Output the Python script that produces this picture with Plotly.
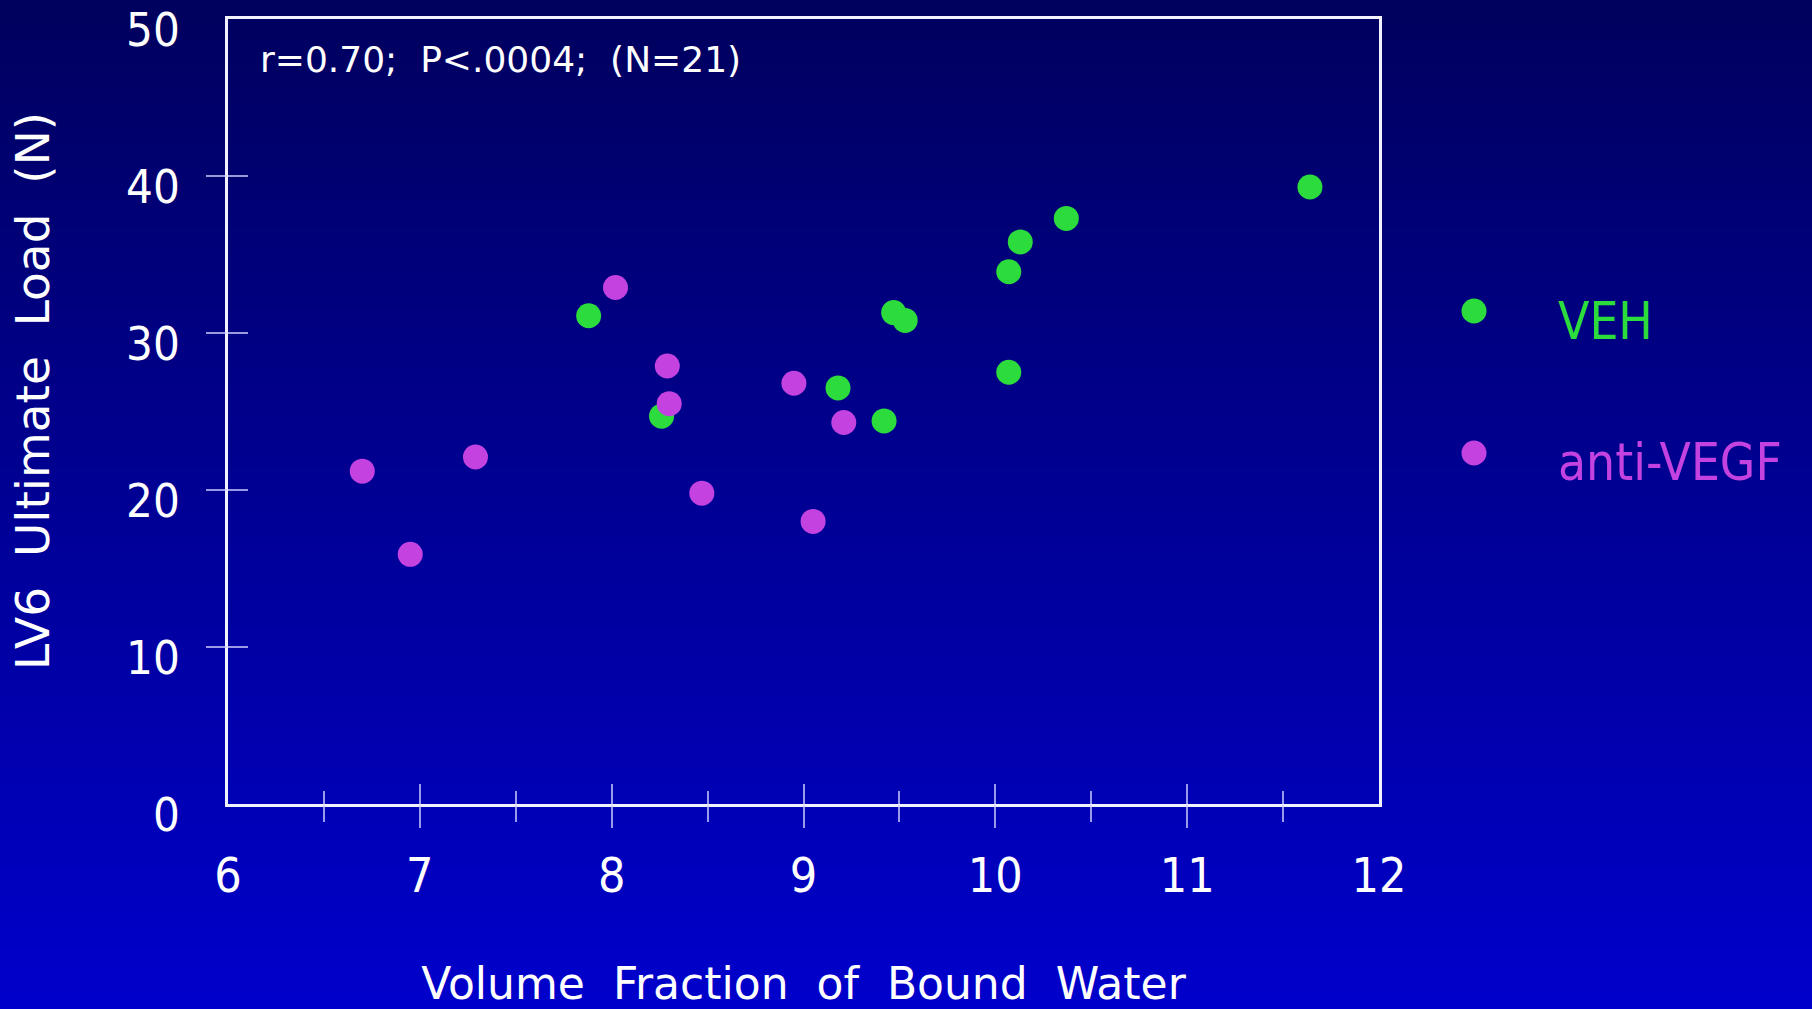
import base64
import struct
import zlib
import plotly.graph_objects as go

# ---------------- data ----------------
veh_x = [7.88, 8.26, 9.18, 9.42, 9.47, 9.53, 10.07, 10.07, 10.13, 10.37, 11.64]
veh_y = [31.1, 24.7, 26.5, 24.4, 31.3, 30.8, 33.9, 27.5, 35.8, 37.3, 39.3]

anti_x = [6.70, 6.95, 7.29, 8.02, 8.29, 8.30, 8.47, 8.95, 9.05, 9.21]
anti_y = [21.2, 15.9, 22.1, 32.9, 27.9, 25.5, 19.8, 26.8, 18.0, 24.3]

series_names = ["VEH", "anti-VEGF"]
x_label_vals = [6, 7, 8, 9, 10, 11, 12]
y_label_vals = [0, 10, 20, 30, 40, 50]
x_major_ticks = [7, 8, 9, 10, 11]
x_minor_ticks = [6.5, 7.5, 8.5, 9.5, 10.5, 11.5]
y_major_ticks = [10, 20, 30, 40]
stat_text = "r=0.70;\u00a0\u00a0P<.0004;\u00a0\u00a0(N=21)"
x_title = "Volume\u00a0\u00a0Fraction\u00a0\u00a0of\u00a0\u00a0Bound\u00a0\u00a0Water"
y_title = "LV6\u00a0\u00a0Ultimate\u00a0\u00a0Load\u00a0\u00a0(N)"

# ---------------- style ----------------
W, H = 1812, 1009
ML, MR, MT, MB = 228, 433, 19, 205
PW = W - ML - MR
PH = H - MT - MB

GREEN = "#2bdc3c"
MAGENTA = "#c342e0"
AXIS = "#f2f2ff"
TICK = "rgba(205,205,255,0.75)"
HF = "DejaVu Sans Condensed, Liberation Sans Narrow, DejaVu Sans, sans-serif"
VF = "DejaVu Sans, Verdana, sans-serif"
TOP_RGB = (0, 0, 94)
BOT_RGB = (0, 0, 204)


def gradient_png(top, bottom, h=256):
    rows = b""
    for i in range(h):
        t = i / (h - 1)
        px = bytes(int(round(a + (b - a) * t)) for a, b in zip(top, bottom))
        rows += b"\x00" + px

    def chunk(tag, data):
        return (struct.pack(">I", len(data)) + tag + data
                + struct.pack(">I", zlib.crc32(tag + data) & 0xFFFFFFFF))

    png = (b"\x89PNG\r\n\x1a\n"
           + chunk(b"IHDR", struct.pack(">IIBBBBB", 1, h, 8, 2, 0, 0, 0))
           + chunk(b"IDAT", zlib.compress(rows))
           + chunk(b"IEND", b""))
    return "data:image/png;base64," + base64.b64encode(png).decode()


def pxx(px):
    return (px - ML) / PW


def pxy(py):
    return (H - MB - py) / PH


fig = go.Figure()
fig.add_trace(go.Scatter(x=veh_x, y=veh_y, mode="markers", name=series_names[0],
                         marker=dict(color=GREEN, size=25), showlegend=False))
fig.add_trace(go.Scatter(x=anti_x, y=anti_y, mode="markers", name=series_names[1],
                         marker=dict(color=MAGENTA, size=25), showlegend=False))
# empty traces so the tick-only overlay axes are drawn
fig.add_trace(go.Scatter(x=[], y=[], xaxis="x2", yaxis="y2", showlegend=False, hoverinfo="skip"))
fig.add_trace(go.Scatter(x=[], y=[], xaxis="x3", yaxis="y3", showlegend=False, hoverinfo="skip"))

common = dict(showgrid=False, zeroline=False, automargin=False)

xaxis = dict(range=[6, 12], tickmode="array", tickvals=x_label_vals,
             ticktext=[str(v) for v in x_label_vals], ticks="",
             showline=True, linecolor=AXIS, linewidth=2.5, mirror=True,
             tickfont=dict(family=HF, size=48, color="white"),
             ticklabelstandoff=28, ticklabeloverflow="allow",
             title=dict(text=x_title, font=dict(family=VF, size=44, color="white"), standoff=66),
             **common)
yaxis = dict(range=[0, 50], tickmode="array", tickvals=y_label_vals,
             ticktext=[str(v) for v in y_label_vals], ticks="",
             showline=True, linecolor=AXIS, linewidth=2.5, mirror=True,
             tickfont=dict(family=HF, size=47, color="white"),
             ticklabelstandoff=36, ticklabelshift=11, ticklabeloverflow="allow",
             title=dict(text=""),
             **common)


def tick_axis(rng, overlay, anchor, major, minor, side, maj_len, min_len):
    d = dict(range=rng, overlaying=overlay, anchor=anchor, tickmode="array",
             tickvals=major, ticks=side, ticklen=maj_len, tickwidth=1.5, tickcolor=TICK,
             showticklabels=False, showline=False, **common)
    if minor:
        d["minor"] = dict(tickmode="array", tickvals=minor, ticks=side, ticklen=min_len,
                          tickwidth=1.5, tickcolor=TICK, showgrid=False)
    return d


fig.update_layout(
    width=W, height=H,
    margin=dict(l=ML, r=MR, t=MT, b=MB, autoexpand=False),
    paper_bgcolor="#00008c", plot_bgcolor="rgba(0,0,0,0)",
    showlegend=False,
    xaxis=xaxis, yaxis=yaxis,
    xaxis2=tick_axis([6, 12], "x", "y2", x_major_ticks, x_minor_ticks, "outside", 23, 17),
    yaxis2=tick_axis([0, 50], "y", "x2", y_major_ticks, None, "outside", 21, 0),
    xaxis3=tick_axis([6, 12], "x", "y3", x_major_ticks, x_minor_ticks, "inside", 20, 13),
    yaxis3=tick_axis([0, 50], "y", "x3", y_major_ticks, None, "inside", 20, 0),
    images=[dict(source=gradient_png(TOP_RGB, BOT_RGB), xref="paper", yref="paper",
                 x=-ML / PW, y=1 + MT / PH, sizex=W / PW, sizey=H / PH,
                 sizing="stretch", xanchor="left", yanchor="top", layer="below")],
)

annotations = [
    dict(text=stat_text, xref="paper", yref="paper", x=pxx(258), y=pxy(60),
         xanchor="left", yanchor="middle", showarrow=False,
         font=dict(family=VF, size=36, color="white")),
    # y-axis title (rotated)
    dict(text=y_title, xref="paper", yref="paper", x=pxx(32), y=pxy(391),
         xanchor="center", yanchor="middle", textangle=-90, showarrow=False,
         font=dict(family=VF, size=47, color="white")),
]
shapes = []
legend_rows = [(series_names[0], GREEN, 311, 321), (series_names[1], MAGENTA, 453, 462)]
for name, col, my, ty in legend_rows:
    shapes.append(dict(type="circle", xref="paper", yref="paper",
                       xsizemode="pixel", ysizemode="pixel",
                       xanchor=pxx(1474), yanchor=pxy(my),
                       x0=-12.5, x1=12.5, y0=-12.5, y1=12.5,
                       fillcolor=col, line=dict(width=0)))
    annotations.append(dict(text=name, xref="paper", yref="paper", x=pxx(1556), y=pxy(ty),
                            xanchor="left", yanchor="middle", showarrow=False,
                            font=dict(family=HF, size=51, color=col)))
fig.update_layout(annotations=annotations, shapes=shapes)

fig.write_html("out.html", config={"displayModeBar": False},
               post_script="document.body.style.margin='0px';")
